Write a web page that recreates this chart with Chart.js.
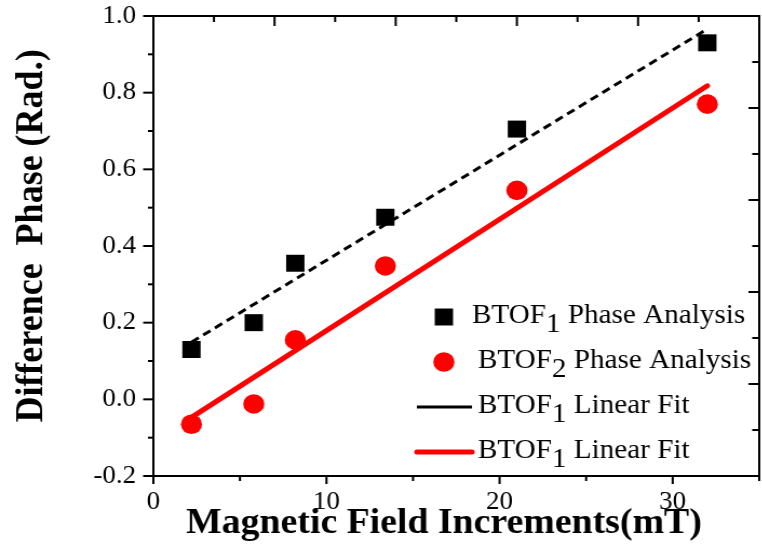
<!DOCTYPE html>
<html>
<head>
<meta charset="utf-8">
<script src="https://cdn.jsdelivr.net/npm/chart.js@4.4.1/dist/chart.umd.min.js"></script>
<style>
  html, body { margin: 0; padding: 0; overflow: hidden; background: #fff; width: 762px; height: 546px; }
  /* the figure is drawn slightly condensed and widened back to page width */
  #wrap { position: absolute; left: 0; top: 0; width: 715px; height: 546px; transform: scaleX(1.08); transform-origin: 0 0; }
  canvas { display: block; }
</style>
</head>
<body>
<div id="wrap"><canvas id="phaseChart" width="715" height="546"></canvas></div>
<script>
// Measured phase differences versus magnetic field increment
const fieldIncrements = [2.2, 5.8, 8.2, 13.4, 21.0, 32.0];          // mT
const btof1Phase      = [0.13, 0.20, 0.355, 0.475, 0.705, 0.93];     // rad
const btof2Phase      = [-0.065, -0.012, 0.155, 0.348, 0.545, 0.77]; // rad

// Linear fit lines, given by their end points
const fitEnds  = [2.2, 32.0];
const btof1Fit = [0.149, 0.966];
const btof2Fit = [-0.047, 0.818];

// Series labels ("_n" marks a subscript digit)
const seriesLabels = [
  'BTOF_1 Phase Analysis',
  'BTOF_2 Phase Analysis',
  'BTOF_1 Linear Fit',
  'BTOF_1 Linear Fit'
];

// Axes
const xTitle = 'Magnetic Field Increments(mT)';
const yTitle = 'Difference  Phase (Rad.)';
const xRange = [0, 35];
const yRange = [-0.2, 1.0];
const xStep = 10;
const yStep = 0.2;
const mirrorDivisions = 5; // unlabeled top / right axes

const SERIF = '"Liberation Serif", "Times New Roman", serif';

const toPoints = (xs, ys) => xs.map((x, i) => ({ x: x, y: ys[i] }));

// Frame, tick marks, axis titles
const framePlugin = {
  id: 'frame',
  afterDraw(chart) {
    const ctx = chart.ctx;
    const { left, right, top, bottom } = chart.chartArea;
    const sx = chart.scales.x, sy = chart.scales.y;
    const st = chart.scales.xTop, sr = chart.scales.yRight;
    ctx.save();
    ctx.strokeStyle = '#000';
    ctx.lineWidth = 2;
    ctx.lineCap = 'butt';
    ctx.strokeRect(left, top, right - left, bottom - top);

    const seg = (x1, y1, x2, y2) => { ctx.beginPath(); ctx.moveTo(x1, y1); ctx.lineTo(x2, y2); ctx.stroke(); };
    const isMajor = (v, step) => Math.abs(v / step - Math.round(v / step)) < 1e-6;

    // bottom: outward
    for (let v = xRange[0]; v <= xRange[1] + 1e-9; v += xStep / 2) {
      const p = sx.getPixelForValue(v);
      seg(p, bottom, p, bottom + (isMajor(v, xStep) ? 8 : 5));
    }
    // left: outward
    for (let v = yRange[0]; v <= yRange[1] + 1e-9; v += yStep / 2) {
      const p = sy.getPixelForValue(v);
      seg(left, p, left - (isMajor(v - yRange[0], yStep) ? 9.5 : 5), p);
    }
    // top: inward
    for (let v = 0; v <= mirrorDivisions + 1e-9; v += 0.5) {
      const p = st.getPixelForValue(v);
      seg(p, top, p, top + (isMajor(v, 1) ? 10 : 6));
    }
    // right: inward
    for (let v = 0; v <= mirrorDivisions + 1e-9; v += 0.5) {
      const p = sr.getPixelForValue(v);
      seg(right, p, right - (isMajor(v, 1) ? 10 : 6.5), p);
    }

    // axis titles
    ctx.fillStyle = '#000';
    ctx.textBaseline = 'alphabetic';
    ctx.textAlign = 'center';
    ctx.font = 'bold 35px ' + SERIF;
    ctx.fillText(xTitle, 411, 533);
    ctx.save();
    ctx.translate(39, 236);
    ctx.rotate(-Math.PI / 2);
    ctx.font = 'bold 36px ' + SERIF;
    ctx.fillText(yTitle, 0, 0);
    ctx.restore();
    ctx.restore();
  }
};

// Legend with subscript digits
const legendPlugin = {
  id: 'richLegend',
  afterDraw(chart) {
    const ctx = chart.ctx;
    const baselines = [323, 368, 413, 458];
    ctx.save();
    chart.data.datasets.forEach((ds, i) => {
      const base = baselines[i];
      const cy = base - 6;
      if (ds.showLine) {
        ctx.beginPath();
        ctx.setLineDash([]);
        ctx.strokeStyle = ds.borderColor;
        ctx.lineWidth = ds.borderWidth;
        ctx.lineCap = ds.borderCapStyle || 'butt';
        ctx.moveTo(386, cy);
        ctx.lineTo(437, cy);
        ctx.stroke();
      } else {
        ctx.fillStyle = ds.backgroundColor;
        ctx.strokeStyle = ds.borderColor;
        Chart.helpers.drawPoint(ctx, {
          pointStyle: ds.pointStyle, radius: ds.pointRadius, rotation: 0, borderWidth: 0
        }, 411, cy);
      }
      ctx.fillStyle = '#000';
      ctx.font = '27px ' + SERIF;
      ctx.textAlign = 'left';
      ctx.textBaseline = 'alphabetic';
      let x = 442.5 + (ds.legendTextShift || 0);
      ds.label.split(/_(\d)/).forEach((part, k) => {
        ctx.fillText(part, x, base + (k % 2 === 1 ? 9 : 0));
        x += ctx.measureText(part).width;
      });
    });
    ctx.restore();
  }
};

// keep the plot box fixed: no extra room for edge labels
const fixBox = (w, h) => s => {
  if (w !== null) s.width = w;
  if (h !== null) s.height = h;
  s.paddingTop = 0; s.paddingBottom = 0; s.paddingLeft = 0; s.paddingRight = 0;
};

new Chart(document.getElementById('phaseChart'), {
  type: 'scatter',
  data: {
    datasets: [
      {
        label: seriesLabels[0],
        data: toPoints(fieldIncrements, btof1Phase),
        xAxisID: 'x', yAxisID: 'y',
        pointStyle: 'rect', pointRadius: 12, pointHoverRadius: 12,
        backgroundColor: '#000000', borderColor: '#000000', borderWidth: 0,
        showLine: false,
        legendTextShift: -5.5
      },
      {
        label: seriesLabels[1],
        data: toPoints(fieldIncrements, btof2Phase),
        xAxisID: 'x', yAxisID: 'y',
        pointStyle: 'circle', pointRadius: 9.8, pointHoverRadius: 9.8,
        backgroundColor: '#ff0000', borderColor: '#ff0000', borderWidth: 0,
        showLine: false
      },
      {
        label: seriesLabels[2],
        data: toPoints(fitEnds, btof1Fit),
        xAxisID: 'x', yAxisID: 'y',
        showLine: true, pointRadius: 0, pointHoverRadius: 0,
        borderColor: '#000000', backgroundColor: '#000000',
        borderWidth: 3, borderDash: [8, 5]
      },
      {
        label: seriesLabels[3],
        data: toPoints(fitEnds, btof2Fit),
        xAxisID: 'x', yAxisID: 'y',
        showLine: true, pointRadius: 0, pointHoverRadius: 0,
        borderColor: '#ff0000', backgroundColor: '#ff0000',
        borderWidth: 5, borderCapStyle: 'round'
      }
    ]
  },
  options: {
    responsive: false,
    animation: false,
    devicePixelRatio: 1,
    layout: { padding: { top: 16, right: 7, left: 0, bottom: 0 } },
    plugins: { legend: { display: false }, tooltip: { enabled: false } },
    events: [],
    scales: {
      x: {
        type: 'linear', position: 'bottom',
        min: xRange[0], max: xRange[1],
        grid: { display: false, drawTicks: false },
        border: { display: false },
        afterFit: fixBox(null, 70),
        ticks: {
          stepSize: xStep, includeBounds: false, autoSkip: false, maxRotation: 0,
          padding: 11, color: '#000',
          font: { family: SERIF, size: 25 },
          callback: v => String(v)
        }
      },
      y: {
        type: 'linear', position: 'left',
        min: yRange[0], max: yRange[1],
        grid: { display: false, drawTicks: false },
        border: { display: false },
        afterFit: fixBox(142, null),
        ticks: {
          stepSize: yStep, autoSkip: false, padding: 16, color: '#000',
          font: { family: SERIF, size: 25 },
          callback: v => (Math.abs(v) < 1e-9 ? 0 : Number(v)).toFixed(1)
        }
      },
      xTop: { type: 'linear', position: 'top', min: 0, max: mirrorDivisions, display: false },
      yRight: { type: 'linear', position: 'right', min: 0, max: mirrorDivisions, display: false }
    }
  },
  plugins: [framePlugin, legendPlugin]
});
</script>
</body>
</html>
